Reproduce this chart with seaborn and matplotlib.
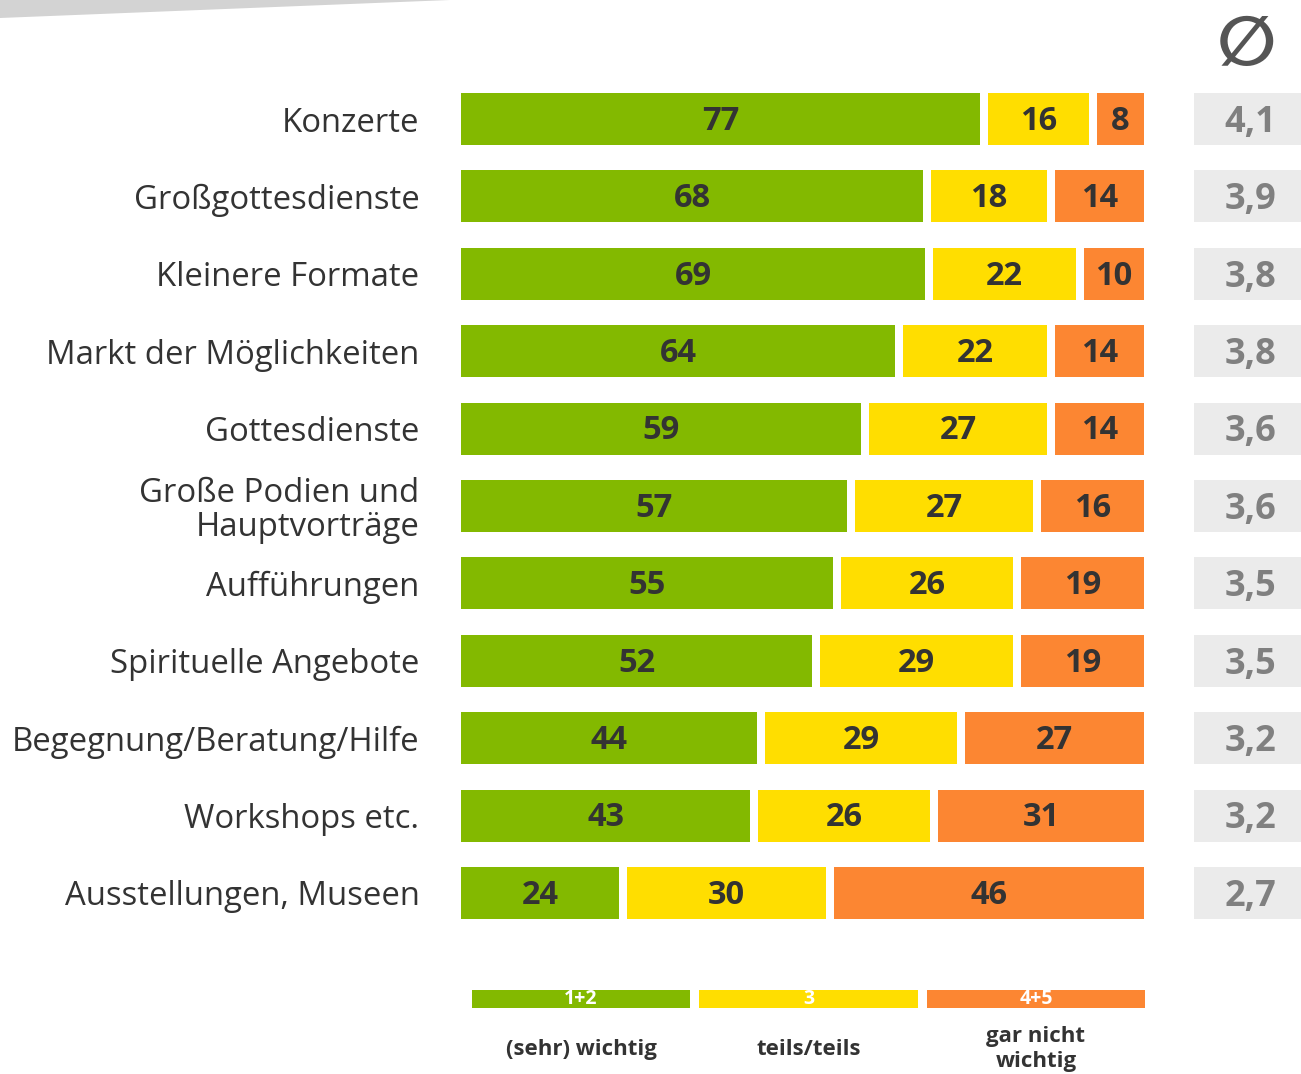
import pandas as pd
import matplotlib.pyplot as plt
from matplotlib.patches import Polygon
import seaborn as sns

# Werte aus der Grafik (Anteile in %)
kategorien = ["Konzerte", "Großgottesdienste", "Kleinere Formate", "Markt der Möglichkeiten",
              "Gottesdienste", "Große Podien und\nHauptvorträge", "Aufführungen",
              "Spirituelle Angebote", "Begegnung/Beratung/Hilfe", "Workshops etc.",
              "Ausstellungen, Museen"]
wichtig = [77, 68, 69, 64, 59, 57, 55, 52, 44, 43, 24]
teils = [16, 18, 22, 22, 27, 27, 26, 29, 29, 26, 30]
nicht_wichtig = [8, 14, 10, 14, 14, 16, 19, 19, 27, 31, 46]
mittelwert = ["4,1", "3,9", "3,8", "3,8", "3,6", "3,6", "3,5", "3,5", "3,2", "3,2", "2,7"]

legende_codes = ["1+2", "3", "4+5"]
legende_texte = ["(sehr) wichtig", "teils/teils", "gar nicht\nwichtig"]

GRUEN, GELB, ORANGE = "#83B900", "#FFDE00", "#FC8632"
TEXT = "#333333"

sns.set_theme(style="white")
plt.rcParams['font.family'] = ['Open Sans', 'DejaVu Sans']

df = pd.DataFrame({"kat": kategorien, "w": wichtig, "t": teils, "n": nicht_wichtig})
summe = df[["w", "t", "n"]].sum(axis=1)
# jede Zeile auf 100 normiert (Rundungsdifferenzen)
df["c1"] = df["w"] / summe * 100
df["c2"] = (df["w"] + df["t"]) / summe * 100
df["c3"] = 100.0

W, H = 1301, 1074
fig = plt.figure(figsize=(W / 100, H / 100), dpi=100)

# grauer Bogen oben links
fig.patches.append(Polygon([(0, 1), (450 / W, 1), (0, 1 - 18 / H)], closed=True,
                           transform=fig.transFigure, facecolor="#D3D3D3", edgecolor="none"))

ax = fig.add_axes([457 / W, 0.1325, 691 / W, 0.7927])
kw = dict(y="kat", orient="h", width=0.775, edgecolor="white", linewidth=5.76,
          saturation=1, errorbar=None, ax=ax)
sns.barplot(data=df, x="c3", color=ORANGE, **kw)
sns.barplot(data=df, x="c2", color=GELB, **kw)
sns.barplot(data=df, x="c1", color=GRUEN, **kw)

ax.set_xlim(0, 100)
ax.set_ylim(10.5, -0.5)
ax.set_xticks([])
ax.set(xlabel="", ylabel="")
sns.despine(ax=ax, left=True, bottom=True)
ax.tick_params(axis="y", length=0, pad=27, labelsize=23.7, labelcolor=TEXT)
for lab in ax.get_yticklabels():
    lab.set_linespacing(1.05)

for i, r in df.iterrows():
    for lo, hi, v in [(0, r.c1, r.w), (r.c1, r.c2, r.t), (r.c2, r.c3, r.n)]:
        ax.text((lo + hi) / 2, i + 0.03, str(v), ha="center", va="center",
                fontsize=23.5, fontweight="bold", color=TEXT)

# Mittelwert-Spalte
ax2 = fig.add_axes([1194 / W, 0.1325, 107 / W, 0.7927])
sns.barplot(x=[1] * len(kategorien), y=kategorien, orient="h", width=0.672, color="#EBEBEB",
            saturation=1, errorbar=None, linewidth=0, ax=ax2)
ax2.set_xlim(0, 1)
ax2.set_ylim(10.5, -0.5)
ax2.axis("off")
for i, m in enumerate(mittelwert):
    ax2.text(0.53, i + 0.05, m, ha="center", va="center", fontsize=26,
             fontweight="bold", color="#808080")

fig.text(1247 / W, 1 - 45 / H, "∅", ha="center", va="center", fontsize=50,
         color="#555555", family="DejaVu Sans", fontweight="bold")

# Legende
ax3 = fig.add_axes([467.25 / W, 1 - 1008 / H, 682.5 / W, 18 / H])
leg = pd.DataFrame({"code": legende_codes, "h": [1, 1, 1]})
sns.barplot(data=leg, x="code", y="h", hue="code", palette=[GRUEN, GELB, ORANGE],
            width=0.96, saturation=1, errorbar=None, legend=False, linewidth=0, ax=ax3)
ax3.set_ylim(0, 1)
ax3.axis("off")
for i, (c, t) in enumerate(zip(legende_codes, legende_texte)):
    ax3.text(i, 0.5, c, ha="center", va="center", fontsize=14, fontweight="bold",
             color="white")
    ax3.text(i, -2.3, t, ha="center", va="center", fontsize=16, fontweight="bold",
             color=TEXT, linespacing=1.25)

fig.savefig("out.png", dpi=100)
